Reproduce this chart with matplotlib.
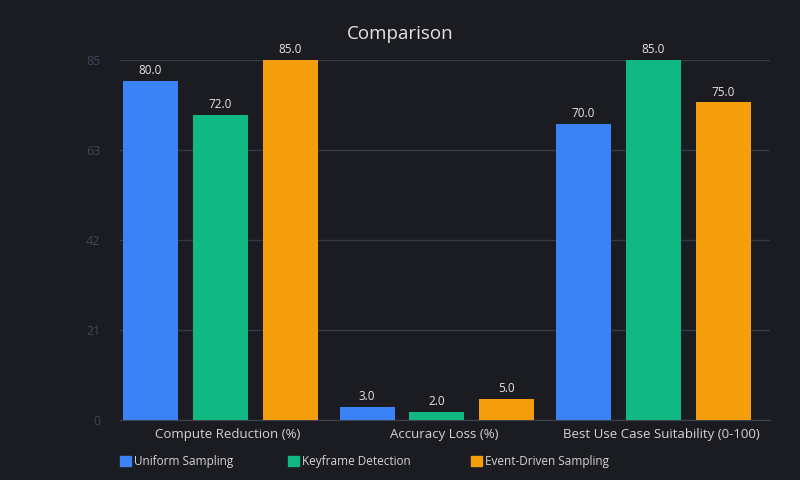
import matplotlib.pyplot as plt
import numpy as np
from matplotlib.patches import Patch

categories = ['Compute Reduction (%)', 'Accuracy Loss (%)', 'Best Use Case Suitability (0-100)']
series_names = ['Uniform Sampling', 'Keyframe Detection', 'Event-Driven Sampling']
uniform = [80.0, 3.0, 70.0]
keyframe = [72.0, 2.0, 85.0]
event_driven = [85.0, 5.0, 75.0]
y_max = 85

colors = ['#3b82f6', '#10b981', '#f59e0b']
bg = '#1b1c21'

plt.rcParams['font.family'] = ['Open Sans', 'DejaVu Sans']

fig = plt.figure(figsize=(8, 4.8), dpi=100, facecolor=bg)
ax = fig.add_axes([0.15, 0.125, 0.8125, 0.75], facecolor=bg)

x = np.arange(len(categories))
width = 0.254
step = 0.323
for i, (vals, name) in enumerate(zip([uniform, keyframe, event_driven], series_names)):
    pos = x + (i - 1) * step
    bars = ax.bar(pos, vals, width, color=colors[i], label=name, zorder=3)
    for b, v in zip(bars, vals):
        ax.text(b.get_x() + b.get_width() / 2, v + 0.9, f'{v:.1f}', ha='center', va='bottom',
                fontsize=8.5, color='#e6e6e6', zorder=4)

# 5 evenly spaced ticks, labels floored like the source chart
yt = np.linspace(0, y_max, 5)
ax.set_xlim(-0.464, 2.538)
ax.set_ylim(0, y_max)
ax.set_yticks(yt)
ax.set_yticklabels([str(int(v)) for v in yt])
ax.set_xticks(x + 0.035)
ax.set_xticklabels(categories)
ax.tick_params(axis='x', colors='#d4d4d8', labelsize=9.5, length=0, pad=6)
ax.tick_params(axis='y', colors='#3f475a', labelsize=9, length=0, pad=14)
ax.grid(axis='y', color='#353a47', linewidth=1, zorder=0)
for s in ['top', 'right', 'left']:
    ax.spines[s].set_visible(False)
ax.spines['bottom'].set_color('#3d4352')

fig.text(0.5, 0.93, 'Comparison', ha='center', va='center', fontsize=13.5, color='#e4e4e7')

legend_x = [0.15, 0.36, 0.589]
for i, name in enumerate(series_names):
    leg = fig.legend(handles=[Patch(color=colors[i])], labels=[name], loc='center left',
                     bbox_to_anchor=(legend_x[i], 0.039), frameon=False, fontsize=8.5,
                     handlelength=0.9, handleheight=0.9, handletextpad=0.3,
                     borderaxespad=0, borderpad=0)
    for t in leg.get_texts():
        t.set_color('#d4d4d8')

fig.savefig('out.png', dpi=100, facecolor=bg)
